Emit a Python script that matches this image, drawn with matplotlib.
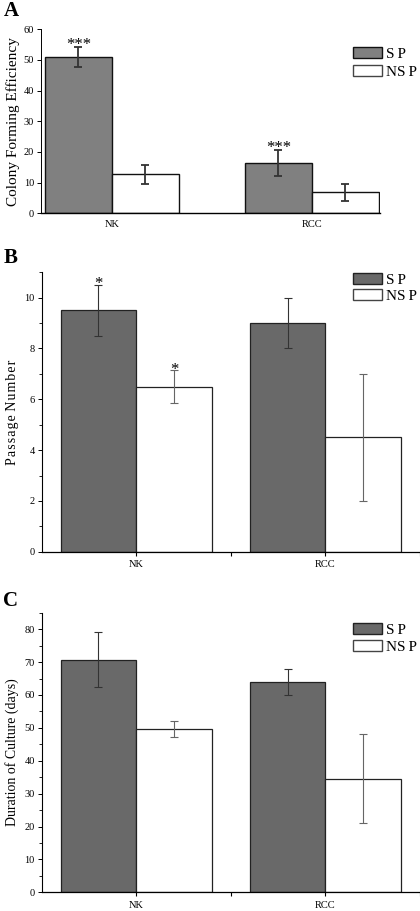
import matplotlib
matplotlib.use("Agg")
import matplotlib.pyplot as plt
import numpy as np
from matplotlib.ticker import MultipleLocator

plt.rcParams['font.family'] = ['Liberation Serif', 'DejaVu Serif']

groups = ["NK", "RCC"]

# panel A: colony forming efficiency
cfe_sp = [51.0, 16.5]
cfe_sp_err = [3.3, 4.3]
cfe_nsp = [12.7, 6.8]
cfe_nsp_err = [3.0, 2.9]
cfe_sp_stars = ["***", "***"]

# panel B: passage number
pn_sp = [9.5, 9.0]
pn_sp_err = [1.0, 1.0]
pn_nsp = [6.5, 4.5]
pn_nsp_err = [0.65, 2.5]
pn_sp_stars = ["*", ""]
pn_nsp_stars = ["*", ""]

# panel C: duration of culture
dc_sp = [70.7, 64.0]
dc_sp_err = [8.3, 4.0]
dc_nsp = [49.7, 34.5]
dc_nsp_err = [2.5, 13.5]

fig = plt.figure(figsize=(4.2, 9.11), dpi=100)
x = np.arange(len(groups))


def legend_box(ax, sp_color, anchor, edge, spacing):
    # hand-placed legend like the original figure
    leg = ax.legend(handles=[
        plt.Rectangle((0, 0), 1, 1, facecolor=sp_color, edgecolor=edge, lw=1.0),
        plt.Rectangle((0, 0), 1, 1, facecolor="white", edgecolor="#444444", lw=1.0)],
        labels=["S\u2009P", "NS\u2009P"], loc="upper left", bbox_to_anchor=anchor,
        frameon=False, fontsize=11, handlelength=1.9, handleheight=0.72,
        handletextpad=0.3, labelspacing=spacing, borderpad=0, borderaxespad=0)
    return leg


def star(ax, xpos, top, s, size, off):
    ax.annotate(s, xy=(xpos, top), xytext=(0, off), textcoords="offset points",
                ha="center", va="baseline", fontsize=size)


# ---------- A ----------
axA = fig.add_axes([0.0976, 0.7659, 0.8071, 0.2019])
w = 0.335
axA.bar(x - w / 2, cfe_sp, w, color="#808080", edgecolor="#111111", lw=1.0)
axA.bar(x + w / 2, cfe_nsp, w, color="white", edgecolor="#111111", lw=1.0)
axA.errorbar(x - w / 2, cfe_sp, yerr=cfe_sp_err, fmt="none", ecolor="#333333",
             elinewidth=1.3, capsize=3, capthick=1.3)
axA.errorbar(x + w / 2, cfe_nsp, yerr=cfe_nsp_err, fmt="none", ecolor="#333333",
             elinewidth=1.3, capsize=3, capthick=1.3)
for i in range(len(groups)):
    if cfe_sp_stars[i]:
        star(axA, x[i] - w / 2, cfe_sp[i] + cfe_sp_err[i], cfe_sp_stars[i], 12, -1.5)
axA.set_xlim(-0.355, 1.34)
axA.set_ylim(0, 60)
axA.set_yticks(range(0, 61, 10))
axA.set_xticks(x)
axA.set_xticklabels(groups)
axA.tick_params(axis="x", length=0, pad=5, labelsize=7.5)
axA.tick_params(axis="y", direction="out", length=3, width=0.7, pad=2, labelsize=7.5)
axA.spines["top"].set_visible(False)
axA.spines["right"].set_visible(False)
axA.spines["left"].set_linewidth(0.7)
axA.spines["bottom"].set_linewidth(1.0)
axA.set_ylabel("Colony Forming Efficiency", fontsize=11, labelpad=3)
legend_box(axA, "#808080", (0.920, 0.905), "#111111", 0.3)
fig.text(0.008, 0.988, "A", fontsize=15, fontweight="bold", va="center")


def panel_bc(rect, sp, sp_err, nsp, nsp_err, ylim, major, minor, ylabel,
             sp_stars, nsp_stars, leg_anchor, spacing, letter, letter_y):
    ax = fig.add_axes(rect)
    w = 0.4
    ax.bar(x - w / 2, sp, w, color="#696969", edgecolor="#222222", lw=0.9)
    ax.bar(x + w / 2, nsp, w, color="white", edgecolor="#222222", lw=0.9)
    ax.errorbar(x - w / 2, sp, yerr=sp_err, fmt="none", ecolor="#333333",
                elinewidth=0.8, capsize=3, capthick=0.8)
    ax.errorbar(x + w / 2, nsp, yerr=nsp_err, fmt="none", ecolor="#666666",
                elinewidth=0.8, capsize=3, capthick=0.8)
    for i in range(len(groups)):
        if sp_stars[i]:
            star(ax, x[i] - w / 2, sp[i] + sp_err[i], sp_stars[i], 12, -2.5)
        if nsp_stars[i]:
            star(ax, x[i] + w / 2, nsp[i] + nsp_err[i], nsp_stars[i], 12, -2.5)
    ax.set_xlim(-0.5, 1.5)
    ax.set_ylim(*ylim)
    ax.yaxis.set_major_locator(MultipleLocator(major))
    ax.yaxis.set_minor_locator(MultipleLocator(minor))
    ax.set_xticks([0, 0.5, 1, 1.5])
    ax.set_xticklabels(["NK", "", "RCC", ""])
    ax.tick_params(axis="x", direction="out", length=3, width=0.8, pad=3, labelsize=7.5)
    ax.tick_params(axis="y", which="major", direction="out", length=3, width=0.7,
                   pad=2, labelsize=7.5)
    ax.tick_params(axis="y", which="minor", direction="out", length=2, width=0.6)
    ax.spines["top"].set_visible(False)
    ax.spines["right"].set_visible(False)
    ax.spines["left"].set_linewidth(0.8)
    ax.spines["bottom"].set_linewidth(0.9)
    ax.set_ylabel(ylabel, fontsize=10, labelpad=4)
    legend_box(ax, "#696969", leg_anchor, "#222222", spacing)
    fig.text(0.008, letter_y, letter, fontsize=15, fontweight="bold", va="center")
    return ax


passage_label = "\u200a".join("Passage") + " " + "\u200a".join("Number")
panel_bc([0.0993, 0.3944, 0.9007, 0.3067], pn_sp, pn_sp_err, pn_nsp, pn_nsp_err,
         (0, 11), 2, 1, passage_label, pn_sp_stars, pn_nsp_stars,
         (0.822, 0.998), 0.15, "B", 0.717)
panel_bc([0.0993, 0.0205, 0.9007, 0.3069], dc_sp, dc_sp_err, dc_nsp, dc_nsp_err,
         (0, 85), 10, 5, "Duration of Culture (days)", ["", ""], ["", ""],
         (0.822, 0.963), 0.22, "C", 0.340)

fig.savefig("out.png", dpi=100)
